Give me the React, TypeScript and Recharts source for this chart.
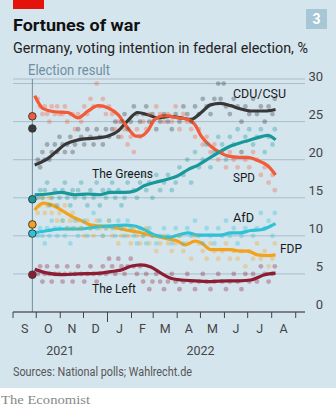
import React from "react";
import { ComposedChart, Line, Scatter, XAxis, YAxis, CartesianGrid, ReferenceLine } from "recharts";

// ---------- data ----------
const monthTicks = [0, 30, 61, 91, 122, 153, 181, 212, 242, 273, 303, 334, 365]; // days since 1 Sep 2021
const monthLabels = ["S", "O", "N", "D", "J", "F", "M", "A", "M", "J", "J", "A"];
const yearTickDays = [61, 242];
const yearLabels = ["2021", "2022"];
const yTicks = [0, 5, 10, 15, 20, 25, 30];
const electionDay = 25;

const parties = ["CDU/CSU", "SPD", "The Greens", "FDP", "AfD", "The Left"];
const electionResult = [24.1, 25.7, 14.8, 11.5, 10.3, 4.9];

const cduTrend: [number, number][] = [[28,19.3],[41,19.9],[54,20.9],[67,22.0],[84,22.6],[101,22.8],[112,22.9],[123,23.1],[136,23.8],[148,25.1],[161,26.2],[174,25.9],[187,25.5],[202,25.7],[217,25.5],[230,25.3],[243,26.2],[255,27.2],[268,27.4],[281,27.1],[293,26.7],[307,26.4],[325,26.4],[339,26.6]];
const spdTrend: [number, number][] = [[28,28.4],[39,26.7],[54,26.3],[71,26.2],[84,25.5],[97,26.4],[110,27.1],[123,26.8],[136,25.9],[148,24.2],[159,23.1],[165,23.1],[174,23.8],[183,25.3],[196,25.8],[213,25.5],[226,25.3],[235,24.6],[243,23.1],[255,21.8],[268,20.9],[277,20.5],[293,20.3],[303,20.3],[316,19.9],[329,19.2],[339,18.0]];
const greensTrend: [number, number][] = [[28,15.4],[45,15.5],[62,15.7],[80,15.4],[97,15.5],[112,15.4],[126,15.7],[144,15.7],[157,15.9],[170,16.6],[183,17.0],[198,17.4],[213,17.9],[226,18.7],[239,19.3],[255,20.3],[268,21.1],[281,21.8],[293,22.2],[303,22.5],[316,22.9],[329,23.2],[339,22.6]];
const fdpTrend: [number, number][] = [[28,13.4],[39,14.3],[49,14.1],[62,13.4],[75,12.6],[88,12.0],[101,11.4],[112,11.3],[126,11.2],[144,10.8],[161,10.5],[178,10.1],[200,9.6],[213,9.3],[222,8.8],[235,9.3],[243,9.1],[255,8.2],[268,8.2],[281,8.2],[293,8.0],[303,8.0],[316,7.5],[329,7.4],[339,7.5]];
const afdTrend: [number, number][] = [[28,10.4],[45,10.7],[62,10.9],[84,10.9],[112,11.2],[126,11.3],[144,11.4],[157,11.3],[170,10.8],[183,10.1],[202,9.8],[213,10.1],[226,10.4],[239,10.1],[255,10.1],[268,10.1],[281,10.4],[293,10.4],[307,10.7],[320,10.8],[333,11.3],[339,11.6]];
const leftTrend: [number, number][] = [[28,5.6],[45,5.1],[62,4.9],[84,5.0],[112,5.1],[126,5.3],[139,5.5],[152,6.0],[165,6.2],[178,5.9],[191,5.1],[202,4.5],[217,4.2],[235,4.1],[255,4.0],[277,4.1],[293,4.1],[307,4.2],[325,4.9],[339,5.1]];

const cduPolls: [number, number][] = [[32,20],[35,19],[38,21],[41,20],[44,22],[47,20],[50,21],[54,22],[57,21],[60,23],[64,22],[67,21],[70,22],[74,23],[77,21],[80,22],[84,24],[88,23],[92,22],[96,24],[100,23],[104,22],[108,24],[112,23],[116,22],[120,24],[124,23],[128,24],[132,25],[136,23],[140,25],[144,26],[148,24],[152,25],[156,27],[160,26],[164,25],[168,26],[172,27],[176,25],[180,26],[185,24],[190,25],[195,26],[200,25],[205,24],[210,26],[215,25],[220,27],[225,26],[230,25],[235,27],[240,26],[245,28],[250,27],[255,26],[260,28],[265,30],[268,28],[272,30],[275,27],[280,26],[285,28],[290,27],[295,25],[300,27],[305,26],[310,28],[315,26],[320,27],[325,25],[330,27],[335,26],[338,28]];
const spdPolls: [number, number][] = [[32,28],[35,27],[38,26],[41,27],[44,26],[47,25],[50,27],[54,26],[57,27],[60,26],[64,26],[67,27],[70,25],[74,26],[77,26],[80,24],[84,26],[88,25],[92,27],[96,26],[100,28],[104,27],[108,30],[112,27],[116,28],[120,26],[124,27],[128,26],[132,24],[136,25],[140,23],[144,24],[148,22],[152,23],[156,21],[160,24],[164,23],[168,25],[172,24],[176,26],[180,25],[185,27],[190,26],[195,25],[200,26],[205,25],[210,27],[215,24],[220,26],[225,25],[230,24],[235,23],[240,24],[245,22],[250,23],[255,21],[260,22],[265,20],[270,21],[275,19],[280,21],[285,20],[290,19],[295,21],[300,20],[305,19],[310,21],[315,20],[320,18],[325,19],[330,17],[335,18],[338,16]];
const greensPolls: [number, number][] = [[32,15],[35,16],[38,15],[41,16],[44,17],[47,14],[50,15],[54,16],[57,14],[60,15],[64,16],[67,17],[70,15],[74,14],[77,16],[80,15],[84,16],[88,17],[92,15],[96,14],[100,16],[104,15],[108,17],[112,14],[116,16],[120,15],[124,16],[128,17],[132,15],[136,16],[140,14],[144,15],[148,17],[152,18],[156,16],[160,15],[164,17],[168,18],[172,16],[176,17],[180,15],[185,18],[190,16],[195,17],[200,18],[205,16],[210,17],[215,19],[220,18],[225,20],[230,17],[235,21],[240,19],[245,20],[250,22],[255,19],[260,21],[265,23],[270,22],[275,20],[280,23],[285,22],[290,24],[295,21],[300,23],[305,24],[310,22],[315,23],[320,24],[325,21],[330,23],[335,22],[338,24]];
const fdpPolls: [number, number][] = [[32,13],[35,14],[38,15],[41,13],[44,14],[47,15],[50,13],[54,14],[57,12],[60,13],[64,12],[67,14],[70,11],[74,12],[77,13],[80,11],[84,12],[88,11],[92,10],[96,12],[100,11],[104,10],[108,12],[112,11],[116,10],[120,11],[124,12],[128,10],[132,11],[136,9],[140,10],[144,11],[148,10],[152,9],[156,11],[160,10],[164,9],[168,10],[172,11],[176,9],[180,10],[185,8],[190,9],[195,10],[200,9],[205,8],[210,9],[215,10],[220,8],[225,9],[230,7],[235,10],[240,9],[245,8],[250,7],[255,9],[260,8],[265,7],[270,8],[275,9],[280,7],[285,8],[290,7],[295,8],[300,6],[305,8],[310,7],[315,9],[320,7],[325,8],[330,6],[335,7],[338,9]];
const afdPolls: [number, number][] = [[32,10],[35,11],[38,10],[41,9],[44,11],[47,10],[50,12],[54,11],[57,10],[60,11],[64,12],[67,10],[70,11],[74,9],[77,11],[80,12],[84,10],[88,11],[92,12],[96,10],[100,11],[104,13],[108,11],[112,12],[116,10],[120,11],[124,12],[128,11],[132,10],[136,12],[140,11],[144,10],[148,12],[152,11],[156,10],[160,9],[164,11],[168,10],[172,9],[176,11],[180,10],[185,9],[190,10],[195,11],[200,10],[205,9],[210,11],[215,10],[220,9],[225,11],[230,10],[235,12],[240,10],[245,9],[250,11],[255,10],[260,9],[265,11],[270,10],[275,12],[280,10],[285,11],[290,9],[295,10],[300,11],[305,12],[310,10],[315,11],[320,13],[325,11],[330,12],[335,10],[338,13]];
const leftPolls: [number, number][] = [[32,5],[35,6],[38,4],[41,5],[44,6],[47,5],[50,4],[54,5],[57,6],[60,5],[64,4],[67,5],[70,6],[74,5],[77,4],[80,5],[84,6],[88,5],[92,4],[96,5],[100,6],[104,5],[108,4],[112,5],[116,6],[120,5],[124,7],[128,6],[132,5],[136,7],[140,6],[144,5],[148,6],[152,7],[156,6],[160,5],[164,6],[168,4],[172,5],[176,3],[180,4],[185,5],[190,4],[195,3],[200,4],[205,5],[210,4],[215,3],[220,4],[225,5],[230,4],[235,3],[240,4],[245,5],[250,4],[255,3],[260,4],[265,5],[270,4],[275,3],[280,4],[285,5],[290,4],[295,3],[300,5],[305,4],[310,5],[315,4],[320,6],[325,5],[330,4],[335,5],[338,6]];

const trends = [cduTrend, spdTrend, greensTrend, fdpTrend, afdTrend, leftTrend];
const polls = [cduPolls, spdPolls, greensPolls, fdpPolls, afdPolls, leftPolls];

// ---------- style ----------
const colors = ["#383838", "#f25a38", "#17999a", "#f4a21c", "#2ec2d6", "#8d1d33"];
const BG = "#d5e5ee";
const FONT = "Roboto, 'Open Sans', sans-serif";
const W = 336;
const MARGIN = { top: 79, right: 0, bottom: 8, left: 13 };
const Y_AXIS_W = 31;
const X_DOMAIN: [number, number] = [0, 377];
const PX_PER_DAY = (W - MARGIN.left - MARGIN.right - Y_AXIS_W) / (X_DOMAIN[1] - X_DOMAIN[0]);

const toRows = (arr: [number, number][]) => arr.map(([d, v]) => ({ d, v }));

const XTick = (props: any) => {
  const { x, y, payload } = props;
  const i = monthTicks.indexOf(payload.value);
  const isJan = payload.value === 122;
  const yi = yearTickDays.indexOf(payload.value);
  const next = monthTicks[i + 1];
  return (
    <g>
      <line x1={x} x2={x} y1={y} y2={y + (isJan ? 10 : 6)} stroke="#444" strokeWidth={1} />
      {i >= 0 && i < monthLabels.length && next !== undefined ? (
        <text x={x + ((next - payload.value) / 2) * PX_PER_DAY} y={y + 21} textAnchor="middle" fontSize={12.5} fill="#444" fontFamily={FONT}>
          {monthLabels[i]}
        </text>
      ) : null}
      {yi >= 0 ? (
        <text x={x} y={y + 43} textAnchor="middle" fontSize={12.5} fill="#444" fontFamily={FONT}>
          {yearLabels[yi]}
        </text>
      ) : null}
    </g>
  );
};

const YTick = (props: any) => {
  const { x, y, payload } = props;
  return (
    <text x={x + 18} y={y - 3} textAnchor="end" fontSize={13} fill="#444" fontFamily={FONT}>
      {payload.value}
    </text>
  );
};

export default function App() {
  return (
    <div style={{ position: "absolute", left: 0, top: 0, width: W, height: 408, background: "#fff", overflow: "hidden" }}>
      <div style={{ position: "absolute", left: 0, top: 0, width: W, height: 388, background: BG }} />
      <div style={{ position: "absolute", left: 0, top: 0 }}>
        <ComposedChart width={W} height={360} margin={MARGIN}>
          <CartesianGrid horizontal={true} vertical={false} stroke="#a9bcc9" strokeWidth={1} />
          <XAxis
            dataKey="d"
            type="number"
            domain={X_DOMAIN}
            ticks={monthTicks}
            interval={0}
            allowDataOverflow
            tickSize={0}
            tickMargin={0}
            tickLine={false}
            axisLine={{ stroke: "#333", strokeWidth: 1 }}
            tick={<XTick />}
            height={40}
          />
          <YAxis
            dataKey="v"
            type="number"
            orientation="right"
            domain={[0, 30.6]}
            ticks={yTicks}
            interval={0}
            allowDataOverflow
            width={Y_AXIS_W}
            tickSize={0}
            tickMargin={0}
            tickLine={false}
            axisLine={false}
            tick={<YTick />}
          />
          <ReferenceLine x={electionDay} stroke="#6e8fa3" strokeWidth={1} ifOverflow="visible" />
          {polls.map((p, i) => (
            <Scatter
              key={"p" + i}
              data={toRows(p)}
              isAnimationActive={false}
              shape={(s: any) => <circle cx={s.cx} cy={s.cy} r={2.4} fill={colors[i]} fillOpacity={0.34} />}
            />
          ))}
          {trends.map((t, i) => (
            <Line
              key={"t" + i}
              data={toRows(t)}
              dataKey="v"
              type="monotone"
              stroke={colors[i]}
              strokeWidth={3.2}
              dot={false}
              activeDot={false}
              isAnimationActive={false}
            />
          ))}
          {parties.map((p, i) => (
            <Scatter
              key={"e" + i}
              data={[{ d: electionDay, v: electionResult[i] }]}
              isAnimationActive={false}
              shape={(s: any) => <circle cx={s.cx} cy={s.cy} r={3.8} fill={colors[i]} stroke="#3a3a3a" strokeWidth={1} />}
            />
          ))}
        </ComposedChart>
      </div>
      <svg width={W} height={408} style={{ position: "absolute", left: 0, top: 0, pointerEvents: "none" }} fontFamily={FONT}>
        <rect x={13} y={0} width={31} height={9} fill="#e3120b" />
        <rect x={306} y={9} width={21} height={20} fill="#a7c7d6" />
        <text x={316.5} y={24} textAnchor="middle" fontSize={14} fontWeight={700} fill="#fff">3</text>
        <text x={13} y={31} fontSize={17} fontWeight={700} fill="#111" textLength={127} lengthAdjust="spacingAndGlyphs">Fortunes of war</text>
        <text x={13} y={53} fontSize={15} fill="#222" textLength={295} lengthAdjust="spacingAndGlyphs">Germany, voting intention in federal election, %</text>
        <text x={28} y={75} fontSize={14} fill="#6e8fa3" textLength={82} lengthAdjust="spacingAndGlyphs">Election result</text>
        <text x={233} y={98} fontSize={13} fill="#1a1a1a" textLength={53} lengthAdjust="spacingAndGlyphs">{parties[0]}</text>
        <text x={233} y={182} fontSize={13} fill="#1a1a1a" textLength={22} lengthAdjust="spacingAndGlyphs">{parties[1]}</text>
        <text x={92} y={178} fontSize={13} fill="#1a1a1a" textLength={61} lengthAdjust="spacingAndGlyphs">{parties[2]}</text>
        <text x={280} y={253} fontSize={13} fill="#1a1a1a" textLength={22} lengthAdjust="spacingAndGlyphs">{parties[3]}</text>
        <text x={233} y={222} fontSize={13} fill="#1a1a1a" textLength={21} lengthAdjust="spacingAndGlyphs">{parties[4]}</text>
        <text x={92} y={293} fontSize={13} fill="#1a1a1a" textLength={44} lengthAdjust="spacingAndGlyphs">{parties[5]}</text>
        <text x={13} y={376} fontSize={12.5} fill="#555" textLength={179} lengthAdjust="spacingAndGlyphs">Sources: National polls; Wahlrecht.de</text>
        <text x={1} y={404} fontSize={13} fill="#888" fontFamily="'Liberation Serif', 'DejaVu Serif', serif" textLength={89} lengthAdjust="spacingAndGlyphs">The Economist</text>
      </svg>
    </div>
  );
}
